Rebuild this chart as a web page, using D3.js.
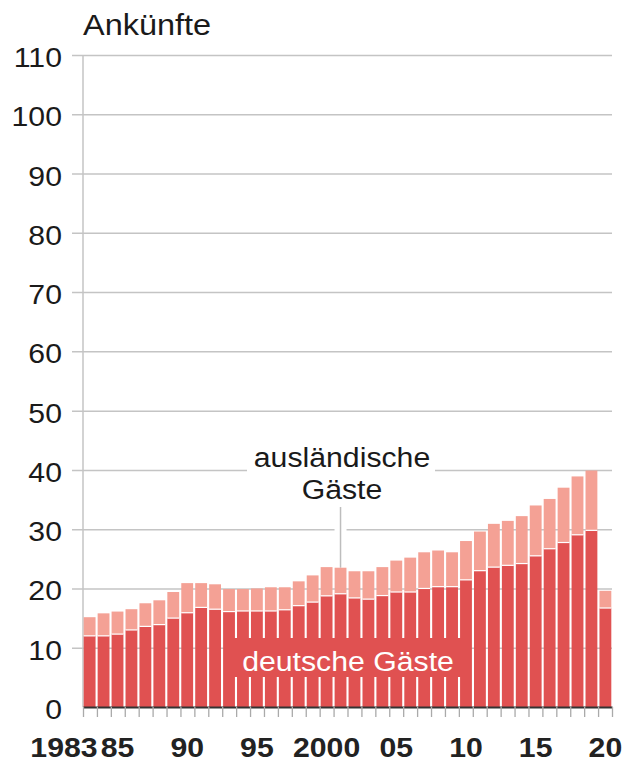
<!DOCTYPE html>
<html>
<head>
<meta charset="utf-8">
<script src="https://cdn.jsdelivr.net/npm/d3@7"></script>
<style>
  html, body { margin: 0; padding: 0; background: #fff; }
  svg { display: block; font-family: "Liberation Sans", Arial, sans-serif; }
</style>
</head>
<body>
<div id="chart"></div>
<script>
// data (Mio. Ankünfte)
var years = d3.range(1983, 2021);
var german = [12.0, 12.0, 12.3, 13.0, 13.6, 13.9, 15.0, 15.9, 16.8, 16.5,
              16.1, 16.2, 16.2, 16.2, 16.4, 17.1, 17.7, 18.75, 19.1, 18.4,
              18.2, 18.8, 19.4, 19.4, 20.0, 20.3, 20.3, 21.45, 23.0, 23.6,
              23.9, 24.2, 25.5, 26.7, 27.75, 29.05, 29.8, 16.7];
var foreign = [3.15, 3.8, 3.8, 3.5, 3.9, 4.1, 4.4, 5.0, 4.1, 4.2,
               3.8, 3.7, 3.8, 4.0, 3.8, 4.1, 4.5, 4.85, 4.4, 4.5,
               4.7, 4.8, 5.3, 5.8, 6.1, 6.1, 5.8, 6.55, 6.6, 7.3,
               7.5, 8.0, 8.5, 8.4, 9.25, 9.85, 10.1, 2.9];
var yTicks = [0, 10, 20, 30, 40, 50, 60, 70, 80, 90, 100, 110];
var xLabelYears = [1983, 1985, 1990, 1995, 2000, 2005, 2010, 2015, 2020];
var xLabelText = ["1983", "85", "90", "95", "2000", "05", "10", "15", "20"];

var svgWidth = 625, svgHeight = 762;
var chartLeft = 83, chartRight = 612, chartTop = 55, chartBottom = 707;
var darkRed = "#e05151", lightRed = "#f4a195";
var stretch = 1.12;

var svg = d3.select("#chart").append("svg")
    .attr("width", svgWidth).attr("height", svgHeight);

var x = d3.scaleBand().domain(years).range([chartLeft, chartRight]).paddingInner(0.15).paddingOuter(0.05);
var xEdge = d3.scaleLinear().domain([1983, 2021]).range([chartLeft, chartRight]);
var y = d3.scaleLinear().domain([0, 110]).range([chartBottom, chartTop]);

// stretched text helper
function label(g, txt, px, py, size, anchor, weight, fill) {
    return g.append("text")
        .text(txt)
        .attr("transform", "translate(" + px + "," + py + ") scale(" + stretch + ",1)")
        .attr("font-size", size)
        .attr("text-anchor", anchor)
        .attr("font-weight", weight || "normal")
        .attr("fill", fill || "#1a1a1a");
}

//gridlines
var grid = svg.append("g")
    .attr("transform", "translate(" + chartRight + ",0)")
    .call(d3.axisLeft(y).tickValues(yTicks.slice(1)).tickSize(chartRight - 72).tickFormat(""));
grid.select(".domain").remove();
grid.selectAll("line").attr("stroke", "#c4c4c4").attr("stroke-width", 1.5);

//vertical axis line
svg.append("line")
    .attr("x1", chartLeft).attr("x2", chartLeft)
    .attr("y1", y(110)).attr("y2", chartBottom)
    .attr("stroke", "#c4c4c4").attr("stroke-width", 1.5);

//y labels
var yLab = svg.append("g");
yTicks.forEach(function(t) {
    label(yLab, t, 62, y(t) + 12, 27, "end");
});

//title
label(svg, "Ankünfte", chartLeft, 35, 29, "start");

//annotation box (behind bars)
var ann = svg.append("g");
ann.append("rect")
    .attr("x", 247).attr("y", 442).attr("width", 188).attr("height", 60)
    .attr("fill", "#fff");
var annX = x(2001) + x.bandwidth() / 2;
var annTop = y(german[18] + foreign[18]);
ann.append("line")
    .attr("x1", annX).attr("x2", annX)
    .attr("y1", 505).attr("y2", annTop - 4)
    .attr("stroke", "#fff").attr("stroke-width", 12);
ann.append("line")
    .attr("x1", annX).attr("x2", annX)
    .attr("y1", 507).attr("y2", annTop)
    .attr("stroke", "#bdbdbd").attr("stroke-width", 1.5);
label(ann, "ausländische", 342, 467, 27, "middle");
label(ann, "Gäste", 342, 499, 27, "middle");

//bars
var table = years.map(function(yr, i) { return { year: yr, german: german[i], foreign: foreign[i] }; });
var series = d3.stack().keys(["german", "foreign"])(table);
var colours = { german: darkRed, foreign: lightRed };

svg.append("g").selectAll("g")
    .data(series)
    .join("g")
    .attr("fill", function(s) { return colours[s.key]; })
    .selectAll("rect")
    .data(function(s) { return s; })
    .join("rect")
    .attr("x", function(d) { return x(d.data.year); })
    .attr("width", x.bandwidth())
    .attr("y", function(d) { return y(d[1]); })
    .attr("height", function(d) { return y(d[0]) - y(d[1]); });

//white separators between german and foreign
svg.append("g").selectAll("line")
    .data(table)
    .join("line")
    .attr("x1", function(d) { return x(d.year); })
    .attr("x2", function(d) { return x(d.year) + x.bandwidth(); })
    .attr("y1", function(d) { return y(d.german); })
    .attr("y2", function(d) { return y(d.german); })
    .attr("stroke", "#fff").attr("stroke-width", 1.2);

//"deutsche Gäste" label box
svg.append("rect")
    .attr("x", 233).attr("y", 638).attr("width", 230).attr("height", 39)
    .attr("fill", darkRed);
label(svg, "deutsche Gäste", 348, 671, 27, "middle", "normal", "#fff");

//x-axis
var xAxis = svg.append("g")
    .attr("transform", "translate(0," + chartBottom + ")")
    .call(d3.axisBottom(xEdge).tickValues(d3.range(1983, 2022)).tickFormat("").tickSize(10).tickSizeOuter(0));
xAxis.select(".domain").attr("stroke", "#333").attr("stroke-width", 2.2);
xAxis.selectAll(".tick line").attr("stroke", "#aaa").attr("stroke-width", 1.3);

var xLab = svg.append("g");
xLabelYears.forEach(function(yr, i) {
    var cx = x(yr) + x.bandwidth() / 2;
    if (i === 0) label(xLab, xLabelText[i], cx + 8, 757, 27, "end", "bold", "#222");
    else label(xLab, xLabelText[i], cx, 757, 27, "middle", "bold", "#222");
});
</script>
</body>
</html>
